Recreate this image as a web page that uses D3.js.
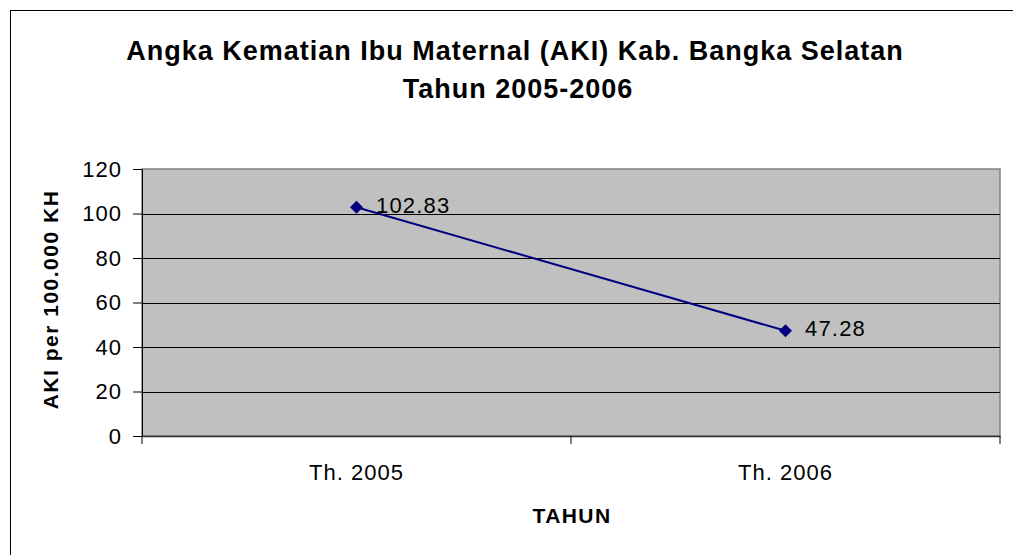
<!DOCTYPE html>
<html>
<head>
<meta charset="utf-8">
<script src="https://cdn.jsdelivr.net/npm/d3@7"></script>
<style>
  body { margin: 0; background: #fff; }
  svg { display: block; font-family: "Liberation Sans", Arial, sans-serif; }
</style>
</head>
<body>
<svg id="chart" width="1013" height="555"></svg>
<script>
// data
const years = ['Th. 2005', 'Th. 2006'];
const aki = [102.83, 47.28];
const yTicks = [0, 20, 40, 60, 80, 100, 120];

const svg = d3.select('#chart');
const plot = { left: 142, right: 1000, top: 169, bottom: 436 };

// outer chart border
svg.append('rect')
  .attr('x', 10.5).attr('y', 10.5)
  .attr('width', 1020).attr('height', 560)
  .attr('fill', '#fff').attr('stroke', '#000').attr('stroke-width', 1);

const x = d3.scaleBand().domain(years).range([plot.left, plot.right]);
const y = d3.scaleLinear().domain([0, 120]).range([plot.bottom, plot.top]);

// plot background
svg.append('rect')
  .attr('x', plot.left).attr('y', plot.top)
  .attr('width', plot.right - plot.left).attr('height', plot.bottom - plot.top)
  .attr('fill', '#c0c0c0').attr('stroke', '#808080').attr('stroke-width', 1.5);

// gridlines
svg.append('g')
  .selectAll('line')
  .data(yTicks.filter(d => d > 0 && d < 120))
  .enter()
  .append('line')
  .attr('x1', plot.left).attr('x2', plot.right)
  .attr('y1', d => Math.round(y(d)) + 0.5).attr('y2', d => Math.round(y(d)) + 0.5)
  .attr('stroke', '#000').attr('stroke-width', 1);

// y axis
const yAxis = svg.append('g')
  .attr('transform', `translate(${plot.left},0)`)
  .call(d3.axisLeft(y).tickValues(yTicks).tickSize(9).tickPadding(11));
yAxis.select('.domain').attr('stroke', '#000');
yAxis.selectAll('.tick line').attr('stroke', '#000');
yAxis.selectAll('text').attr('font-size', 22).attr('letter-spacing', 1).attr('fill', '#000')
  .attr('font-family', '"Liberation Sans", Arial, sans-serif');

// x axis: ticks sit on band edges
const xAxis = svg.append('g')
  .attr('transform', `translate(0,${plot.bottom})`)
  .call(d3.axisBottom(x).tickSize(0).tickPadding(28));
xAxis.select('.domain').attr('stroke', '#333').attr('stroke-width', 1.5);
xAxis.selectAll('text').attr('font-size', 22).attr('letter-spacing', 1).attr('fill', '#000')
  .attr('font-family', '"Liberation Sans", Arial, sans-serif');
svg.append('g')
  .selectAll('line')
  .data(years.map(d => x(d)).concat([x(years[years.length - 1]) + x.bandwidth()]))
  .enter()
  .append('line')
  .attr('x1', d => d).attr('x2', d => d)
  .attr('y1', plot.bottom).attr('y2', plot.bottom + 8)
  .attr('stroke', '#000');

// series line
const cx = d => x(d) + x.bandwidth() / 2;
svg.append('path')
  .datum(years)
  .attr('d', d3.line().x(d => cx(d)).y((d, i) => y(aki[i])))
  .attr('fill', 'none').attr('stroke', '#000080').attr('stroke-width', 2);

// markers
svg.append('g')
  .selectAll('path')
  .data(years)
  .enter()
  .append('path')
  .attr('transform', (d, i) => `translate(${cx(d)},${y(aki[i])}) rotate(45)`)
  .attr('d', d3.symbol().type(d3.symbolSquare).size(85))
  .attr('fill', '#000080');

// data labels
svg.append('g')
  .selectAll('text')
  .data(years)
  .enter()
  .append('text')
  .attr('x', d => cx(d) + 19.5)
  .attr('y', (d, i) => y(aki[i]) + 5.5)
  .attr('font-size', 22).attr('letter-spacing', 1.2)
  .text((d, i) => aki[i].toFixed(2));

// title
const title = svg.append('text')
  .attr('text-anchor', 'middle')
  .attr('font-size', 27).attr('font-weight', 'bold').attr('letter-spacing', 1);
title.append('tspan').attr('x', 515).attr('y', 60)
  .text('Angka Kematian Ibu Maternal (AKI) Kab. Bangka Selatan');
title.append('tspan').attr('x', 518).attr('y', 98)
  .text('Tahun 2005-2006');

// axis titles
svg.append('text')
  .attr('transform', `translate(58,${(plot.top + plot.bottom) / 2 - 3}) rotate(-90)`)
  .attr('text-anchor', 'middle')
  .attr('font-size', 21).attr('font-weight', 'bold').attr('letter-spacing', 1.5)
  .text('AKI per 100.000 KH');

svg.append('text')
  .attr('x', (plot.left + plot.right) / 2 + 1).attr('y', 523)
  .attr('text-anchor', 'middle')
  .attr('font-size', 21).attr('font-weight', 'bold').attr('letter-spacing', 1.4)
  .text('TAHUN');
</script>
</body>
</html>
